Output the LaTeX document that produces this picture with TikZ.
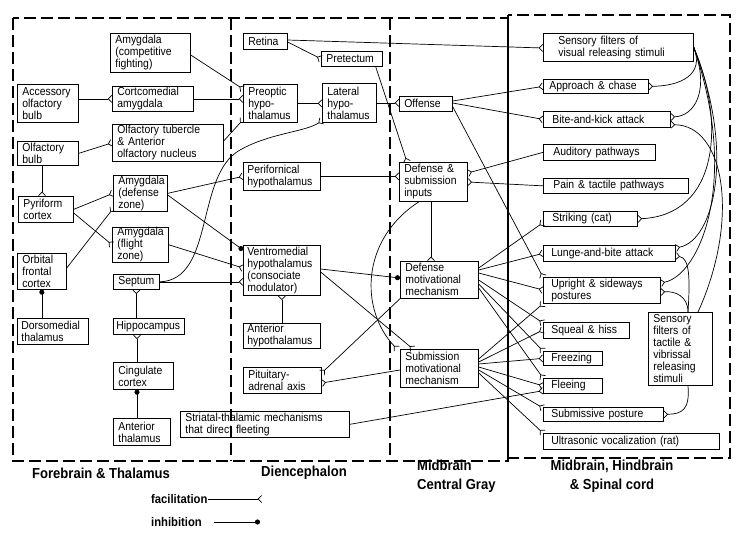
\documentclass[tikz,border=0pt]{standalone}
\usepackage{fontspec}
\setmainfont{Liberation Sans}[FakeStretch=0.9]
\usetikzlibrary{arrows.meta,calc}
\begin{document}
\begin{tikzpicture}[x=1pt,y=-1pt,
 box/.style={draw, line width=0.7pt, anchor=north west, align=left, inner xsep=5pt, inner ysep=0pt, font=\fontsize{11.6}{12}\selectfont},
 fac/.style={line width=0.7pt, -{Straight Barb[reversed,length=3.5pt,width=7pt,line width=0.7pt]}},
 inh/.style={line width=0.7pt, -{Circle[length=5pt]}},
 frame/.style={line width=1.2pt, dash pattern=on 12pt off 5pt},
 lab/.style={font=\bfseries\fontsize{14.5}{19}\selectfont, inner sep=0pt},
 leg/.style={font=\bfseries\fontsize{12.5}{14}\selectfont, inner sep=0pt}]
\useasboundingbox[fill=white] (0,0) rectangle (740,550);
% frames
\draw[frame] (13,18) rectangle (508,461);
\draw[frame] (508,15) rectangle (730,458);
\draw[frame] (231,18) -- (231,461);
\draw[frame] (390,18) -- (390,461);
% forebrain
\node[box, text width=70pt, minimum height=39pt] (comp) at (110,33) {Amygdala\\(competitive\\fighting)};
\node[box, text width=51pt, minimum height=38pt] (acc) at (17,84) {Accessory\\olfactory\\bulb};
\node[box, text width=71pt, minimum height=25pt] (cort) at (112,86) {Cortcomedial\\amygdala};
\node[box, text width=101pt, minimum height=37pt] (tub) at (112,124) {Olfactory tubercle\\\& Anterior\\olfactory nucleus};
\node[box, text width=51pt, minimum height=24pt] (ob) at (17,141) {Olfactory\\bulb};
\node[box, text width=45pt, minimum height=26pt] (pyr) at (18,196) {Pyriform\\cortex};
\node[box, text width=44pt, minimum height=36pt] (amd) at (113,175) {Amygdala\\(defense\\zone)};
\node[box, text width=46pt, minimum height=34pt] (amf) at (112,227) {Amygdala\\(flight\\zone)};
\node[box, text width=39pt, minimum height=36pt] (orb) at (17,253) {Orbital\\frontal\\cortex};
\node[box, text width=36pt, minimum height=15pt] (sep) at (113,274) {Septum};
\node[box, inner xsep=4pt, text width=63pt, minimum height=26pt] (dmt) at (17,318) {Dorsomedial\\thalamus};
\node[box, inner xsep=3pt, text width=65pt, minimum height=16pt] (hip) at (113,318) {Hippocampus};
\node[box, text width=50pt, minimum height=27pt] (cing) at (113,362) {Cingulate\\cortex};
\node[box, text width=47pt, minimum height=27pt] (ant) at (113,418) {Anterior\\thalamus};
\node[box, text width=159pt, minimum height=26pt] (str) at (180,411) {Striatal-thalamic mechanisms\\that direct fleeting};
% diencephalon
\node[box, text width=34pt, minimum height=16pt] (ret) at (243,33) {Retina};
\node[box, text width=51pt, minimum height=15pt] (pre) at (321,51) {Pretectum};
\node[box, text width=44pt, minimum height=38pt] (pop) at (243,84) {Preoptic\\hypo-\\thalamus};
\node[box, text width=44pt, minimum height=39pt] (lat) at (322,83) {Lateral\\hypo-\\thalamus};
\node[box, inner xsep=4pt, text width=69pt, minimum height=28pt] (per) at (243,162) {Perifornical\\hypothalamus};
\node[box, inner xsep=4pt, text width=69pt, minimum height=50pt] (vmh) at (243,245) {Ventromedial\\hypothalamus\\(consociate\\modulator)};
\node[box, inner xsep=4pt, text width=69pt, minimum height=25pt] (ahy) at (243,323) {Anterior\\hypothalamus};
\node[box, text width=68pt, minimum height=26pt] (pit) at (243,367) {Pituitary-\\adrenal axis};
% midbrain central gray
\node[box, text width=43pt, minimum height=15pt] (off) at (399,96) {Offense};
\node[box, text width=58pt, minimum height=39pt] (dsi) at (399,162) {Defense \&\\submission\\inputs};
\node[box, text width=68pt, minimum height=37pt] (dmm) at (400,261) {Defense\\motivational\\mechanism};
\node[box, text width=68pt, minimum height=38pt] (smm) at (400,349) {Submission\\motivational\\mechanism};
% right column
\node[box, inner xsep=15pt, text width=120pt, minimum height=28pt] (vis) at (543,33) {Sensory filters of\\visual releasing stimuli};
\node[box, inner xsep=6pt, text width=93pt, minimum height=14pt] (app) at (543,79) {Approach \& chase};
\node[box, inner xsep=9pt, text width=109pt, minimum height=16pt] (bite) at (543,111) {Bite-and-kick attack};
\node[box, inner xsep=10pt, text width=92pt, minimum height=16pt] (aud) at (543,144) {Auditory pathways};
\node[box, inner xsep=10pt, text width=125pt, minimum height=15pt] (pain) at (543,178) {Pain \& tactile pathways};
\node[box, inner xsep=9pt, text width=76pt, minimum height=15pt] (strk) at (543,211) {Striking (cat)};
\node[box, inner xsep=8pt, text width=116pt, minimum height=16pt] (lunge) at (543,245) {Lunge-and-bite attack};
\node[box, inner xsep=8pt, text width=101pt, minimum height=26pt] (upr) at (543,277) {Upright \& sideways\\postures};
\node[box, inner xsep=8pt, text width=70pt, minimum height=16pt] (sq) at (543,322) {Squeal \& hiss};
\node[box, inner xsep=8pt, text width=43pt, minimum height=14pt] (frz) at (543,351) {Freezing};
\node[box, inner xsep=8pt, text width=43pt, minimum height=15pt] (flee) at (543,378) {Fleeing};
\node[box, inner xsep=8pt, text width=104pt, minimum height=14pt] (subp) at (543,407) {Submissive posture};
\node[box, inner xsep=8pt, text width=160pt, minimum height=16pt] (ultra) at (543,433) {Ultrasonic vocalization (rat)};
\node[box, inner xsep=5pt, text width=54pt, minimum height=73pt] (tac) at (648,312) {Sensory\\filters of\\tactile \&\\vibrissal\\releasing\\stimuli};
% labels
\node[lab, anchor=west] (l1) at (32,473) {Forebrain \& Thalamus};
\node[lab, anchor=west] (l2) at (261,473) {Diencephalon};
\node[lab, anchor=west, align=left] (l3) at (417,476) {Midbrain\\Central Gray};
\node[lab, align=center] (l4) at (612,476) {Midbrain, Hindbrain\\\& Spinal cord};
\node[leg, anchor=west] (fl) at (151,499) {facilitation};
\node[leg, anchor=west] (il) at (151,522) {inhibition};
\coordinate (fe) at (262,499);
\coordinate (is) at (214,522);
\coordinate (ie) at (260,522);
\draw[fac] (fl.east) -- (fe);
\draw[inh] (is) -- (ie);
% forebrain connections
\draw[fac] (acc.east |- cort.west) -- (cort.west);
\draw[fac] (ob.east) -- (tub.west);
\draw[fac] ($(ob.south west)+(25,0)$) -- ($(pyr.north west)+(24,0)$);
\draw[fac] (pyr.east) -- (amd.west);
\draw[fac] ($(pyr.north east)+(0,17)$) -- (amf.west);
\draw[fac] ($(orb.north east)+(0,15)$) -- ($(amd.south west)+(0,-3)$);
\draw[inh] (orb.south |- dmt.north) -- (orb.south);
\draw[fac] (sep.south |- hip.north) -- (sep.south);
\draw[fac] ($(cing.north west)+(24,0)$) -- ($(hip.south west)+(24,0)$);
\draw[inh] ($(ant.north west)+(24,0)$) -- ($(cing.south west)+(24,0)$);
\draw[fac] (sep.east) -- (sep.east -| vmh.west);
\draw[fac] (sep.east) .. controls (215,280) and (195,175) .. (240,150) .. controls (270,133) and (305,132) .. ($(lat.south west)+(0,-2)$);
\draw[fac] (amd.east) -- (per.west);
\draw[inh] ($(amd.north east)+(0,20)$) -- ($(vmh.north west)+(0,5)$);
\draw[fac] (amf.east) -- ($(vmh.north west)+(0,23)$);
\draw[fac] ($(comp.north east)+(0,22)$) -- ($(pop.north west)+(0,5)$);
\draw[fac] (cort.east) -- (cort.east -| pop.west);
\draw[fac] ($(tub.north east)+(0,17)$) -- ($(pop.south west)+(0,-3)$);
% diencephalon connections
\draw[fac] ($(ret.north east)+(0,9)$) -- (pre.west);
\draw[fac] ($(ret.north east)+(0,7)$) -- ($(vis.north west)+(0,15)$);
\draw[fac] ($(pre.south east)+(-7,0)$) -- ($(dsi.north west)+(8,0)$);
\draw[fac] (pop.east) -- (pop.east -| lat.west);
\draw[fac] (lat.east) -- (lat.east -| off.west);
\draw[fac] (per.east) -- (per.east -| dsi.west);
\draw[fac] (ahy.north) -- (vmh.south);
\draw[inh] ($(vmh.north east)+(0,24)$) -- ($(dmm.north west)+(0,17)$);
\draw[fac] ($(vmh.north east)+(0,27)$) -- ($(smm.north west)+(13,0)$);
\draw[fac] ($(dsi.south west)+(20,0)$) .. controls (360,240) and (360,310) .. ($(smm.north west)+(-3,0)$);
\draw[fac] ($(dsi.south west)+(32,0)$) -- ($(dmm.north west)+(31,0)$);
\draw[fac] (dmm.south west) -- ($(pit.north east)+(0,6)$);
\draw[fac] ($(smm.north west)+(0,21)$) -- ($(pit.north east)+(0,16)$);
\draw[fac] (str.east) -- ($(flee.south west)+(0,-3)$);
% midbrain central gray outputs
\draw[fac] ($(off.north east)+(0,5)$) -- (app.west);
\draw[fac] ($(off.north east)+(0,7)$) -- (bite.west);
\draw[fac] ($(off.south east)+(0,-5)$) -- (upr.north west);
\draw[fac] (aud.west) -- ($(dsi.north east)+(0,11)$);
\draw[fac] (pain.west) -- ($(dsi.north east)+(0,20)$);
\draw[fac] ($(dmm.north east)+(0,7)$) -- ($(strk.south west)+(0,-4)$);
\draw[fac] ($(dmm.north east)+(0,9)$) -- (lunge.west);
\draw[fac] ($(dmm.north east)+(0,12)$) -- ($(upr.north west)+(0,13)$);
\draw[fac] ($(dmm.north east)+(0,19)$) -- ($(sq.north west)+(0,1)$);
\draw[fac] ($(dmm.north east)+(0,23)$) -- (frz.north west);
\draw[fac] ($(dmm.north east)+(0,27)$) -- (flee.north west);
\draw[fac] ($(smm.north east)+(0,10)$) -- (upr.south west);
\draw[fac] ($(smm.north east)+(0,13)$) -- ($(sq.north west)+(0,8)$);
\draw[fac] ($(smm.north east)+(0,15)$) -- (frz.west);
\draw[fac] ($(smm.north east)+(0,18)$) -- (flee.west);
\draw[fac] ($(smm.north east)+(0,21)$) -- ($(subp.north west)+(0,1)$);
\draw[fac] ($(smm.north east)+(0,24)$) -- (ultra.north west);
% sensory filter curves
\draw[fac] (vis.east) .. controls (705,75) and (680,86) .. (app.east);
\draw[fac] (vis.east) .. controls (710,90) and (695,116) .. ($(bite.north east)+(0,6)$);
\draw[fac] (vis.east) .. controls (725,120) and (720,215) .. (strk.east);
\draw[fac] (vis.east) .. controls (735,150) and (715,240) .. ($(lunge.north east)+(0,3)$);
\draw[fac] (vis.east) .. controls (740,180) and (700,275) .. ($(upr.north east)+(0,6)$);
\draw[fac] ($(tac.north west)+(40,0)$) .. controls (690,280) and (690,258) .. ($(lunge.north east)+(0,11)$);
\draw[fac] ($(tac.north west)+(40,0)$) .. controls (688,296) and (675,291) .. ($(upr.north east)+(0,15)$);
\draw[fac] ($(tac.north west)+(50,0)$) .. controls (740,220) and (725,125) .. ($(bite.south east)+(0,-3)$);
\draw[fac] ($(tac.south west)+(40,0)$) .. controls (690,410) and (682,414) .. (subp.east);
\end{tikzpicture}
\end{document}
